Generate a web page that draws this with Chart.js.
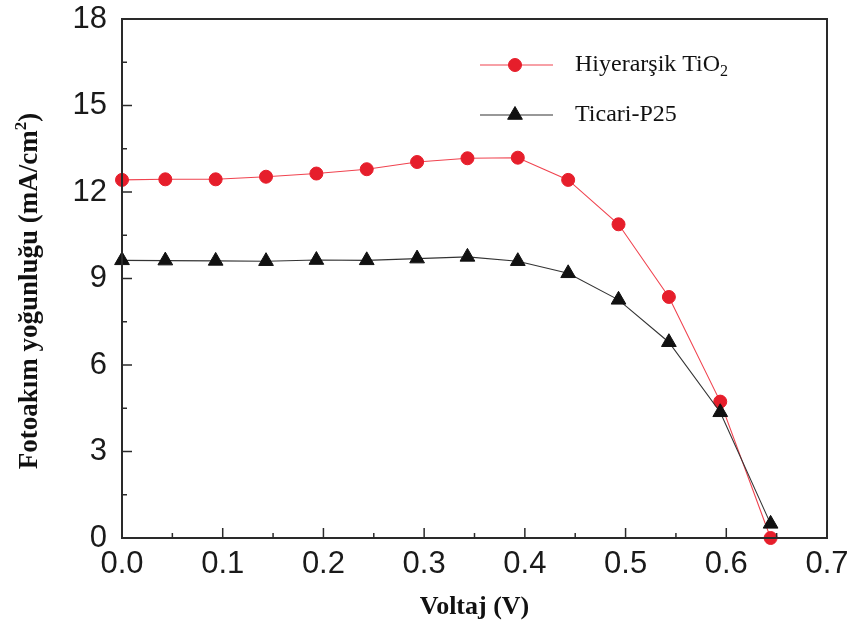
<!DOCTYPE html>
<html>
<head>
<meta charset="utf-8">
<script src="https://cdn.jsdelivr.net/npm/chart.js@4.4.0/dist/chart.umd.min.js"></script>
<style>
  html, body { margin: 0; padding: 0; background: #fff; }
  #wrap { width: 855px; height: 628px; }
</style>
</head>
<body>
<div id="wrap"><canvas id="grafico" width="855" height="628"></canvas></div>
<script>
// Ölçüm verileri: gerilim (V) ve fotoakım yoğunluğu (mA/cm2)
const voltaj = [0.0, 0.043, 0.093, 0.143, 0.193, 0.243, 0.293, 0.343, 0.393, 0.443, 0.493, 0.543, 0.594, 0.644];
const hiyerarsikTiO2 = [12.42, 12.44, 12.44, 12.53, 12.64, 12.79, 13.04, 13.17, 13.19, 12.42, 10.88, 8.36, 4.73, 0.0];
const ticariP25 = [9.63, 9.62, 9.61, 9.60, 9.64, 9.63, 9.69, 9.75, 9.60, 9.18, 8.26, 6.79, 4.36, 0.49];

const xTicks = [0, 0.1, 0.2, 0.3, 0.4, 0.5, 0.6, 0.7];
const yTicks = [0, 3, 6, 9, 12, 15, 18];

const KIRMIZI = '#e61e2b';
const SIYAH = '#111111';

const noktalar = (ys) => voltaj.map((v, i) => ({ x: v, y: ys[i] }));

// Çerçeve, içe dönük tik çizgileri, eksen başlıkları ve açıklama kutusu
const cerceve = {
    id: 'cerceve',
    afterDraw(chart) {
        const { ctx, chartArea: a, scales } = chart;
        const xs = scales.x, ys = scales.y;
        ctx.save();
        ctx.strokeStyle = '#2a2a2a';
        ctx.lineWidth = 1.5;
        // x ekseni tikleri (ana 0.1, ara 0.05)
        for (let i = 0; i <= 14; i++) {
            const px = xs.getPixelForValue(i * 0.05);
            const uz = i % 2 === 0 ? 10 : 5;
            ctx.beginPath();
            ctx.moveTo(px, a.bottom);
            ctx.lineTo(px, a.bottom - uz);
            ctx.stroke();
        }
        // y ekseni tikleri (ana 3, ara 1.5)
        for (let i = 0; i <= 12; i++) {
            const py = ys.getPixelForValue(i * 1.5);
            const uz = i % 2 === 0 ? 10 : 5;
            ctx.beginPath();
            ctx.moveTo(a.left, py);
            ctx.lineTo(a.left + uz, py);
            ctx.stroke();
        }
        ctx.lineWidth = 2;
        ctx.strokeRect(a.left, a.top, a.right - a.left, a.bottom - a.top);

        // eksen başlıkları
        ctx.fillStyle = '#111';
        ctx.font = 'bold 26px "Liberation Serif", "Times New Roman", serif';
        ctx.textAlign = 'center';
        ctx.textBaseline = 'middle';
        ctx.fillText('Voltaj (V)', (a.left + a.right) / 2, 607);

        ctx.save();
        ctx.translate(28, 291);
        ctx.rotate(-Math.PI / 2);
        const ana = 'Fotoakım yoğunluğu (mA/cm';
        ctx.font = 'bold 27px "Liberation Serif", "Times New Roman", serif';
        const w1 = ctx.measureText(ana).width;
        const w3 = ctx.measureText(')').width;
        ctx.font = 'bold 17px "Liberation Serif", "Times New Roman", serif';
        const w2 = ctx.measureText('2').width;
        let x0 = -(w1 + w2 + w3) / 2;
        ctx.textAlign = 'left';
        ctx.textBaseline = 'alphabetic';
        ctx.font = 'bold 27px "Liberation Serif", "Times New Roman", serif';
        ctx.fillText(ana, x0, 9);
        ctx.font = 'bold 17px "Liberation Serif", "Times New Roman", serif';
        ctx.fillText('2', x0 + w1, -2);
        ctx.font = 'bold 27px "Liberation Serif", "Times New Roman", serif';
        ctx.fillText(')', x0 + w1 + w2, 9);
        ctx.restore();

        // açıklama
        const satirlar = [
            { ds: chart.data.datasets[0], y: 65, metin: 'Hiyerarşik TiO', alt: '2' },
            { ds: chart.data.datasets[1], y: 115, metin: 'Ticari-P25', alt: '' }
        ];
        satirlar.forEach(s => {
            ctx.strokeStyle = s.ds.borderColor;
            ctx.lineWidth = 1.2;
            ctx.beginPath();
            ctx.moveTo(480, s.y);
            ctx.lineTo(553, s.y);
            ctx.stroke();
            ctx.fillStyle = s.ds.pointBackgroundColor;
            ctx.strokeStyle = s.ds.pointBorderColor;
            ctx.lineWidth = 1;
            Chart.helpers.drawPoint(ctx, {
                pointStyle: s.ds.pointStyle,
                radius: s.ds.pointRadius,
                borderWidth: 1,
                rotation: 0
            }, 515, s.y);
            ctx.fillStyle = '#111';
            ctx.textAlign = 'left';
            ctx.textBaseline = 'middle';
            ctx.font = '24px "Liberation Serif", "Times New Roman", serif';
            ctx.fillText(s.metin, 575, s.y);
            if (s.alt) {
                const w = ctx.measureText(s.metin).width;
                ctx.font = '16px "Liberation Serif", "Times New Roman", serif';
                ctx.fillText(s.alt, 575 + w, s.y + 7);
            }
        });
        ctx.restore();
    }
};

new Chart(document.getElementById('grafico').getContext('2d'), {
    type: 'line',
    data: {
        datasets: [{
            label: 'Hiyerarşik TiO2',
            data: noktalar(hiyerarsikTiO2),
            borderColor: '#f0434f',
            borderWidth: 1.1,
            pointStyle: 'circle',
            pointRadius: 6.5,
            pointBackgroundColor: KIRMIZI,
            pointBorderColor: KIRMIZI,
            pointBorderWidth: 1,
            tension: 0,
            clip: false,
            order: 2
        }, {
            label: 'Ticari-P25',
            data: noktalar(ticariP25),
            borderColor: '#333333',
            borderWidth: 1.1,
            pointStyle: 'triangle',
            pointRadius: 8.5,
            pointBackgroundColor: SIYAH,
            pointBorderColor: SIYAH,
            pointBorderWidth: 1,
            tension: 0,
            clip: false,
            order: 1
        }]
    },
    options: {
        responsive: false,
        animation: false,
        layout: { padding: { top: 19, right: 28, left: 0, bottom: 0 } },
        plugins: { legend: { display: false }, tooltip: { enabled: false } },
        scales: {
            x: {
                type: 'linear',
                min: 0,
                max: 0.7,
                afterBuildTicks: (s) => { s.ticks = xTicks.map(v => ({ value: v })); },
                afterFit: (s) => { s.height = 90; s.paddingLeft = 0; s.paddingRight = 0; },
                grid: { display: false, drawTicks: false },
                border: { display: false },
                ticks: {
                    padding: 8,
                    color: '#1a1a1a',
                    font: { family: '"Liberation Sans", Arial, sans-serif', size: 31 },
                    callback: (v) => Number(v).toFixed(1)
                }
            },
            y: {
                type: 'linear',
                min: 0,
                max: 18,
                afterBuildTicks: (s) => { s.ticks = yTicks.map(v => ({ value: v })); },
                afterFit: (s) => { s.width = 122; s.paddingTop = 0; s.paddingBottom = 0; },
                grid: { display: false, drawTicks: false },
                border: { display: false },
                ticks: {
                    padding: 15,
                    color: '#1a1a1a',
                    font: { family: '"Liberation Sans", Arial, sans-serif', size: 31 },
                    callback: (v) => String(v)
                }
            }
        }
    },
    plugins: [cerceve]
});
</script>
</body>
</html>
